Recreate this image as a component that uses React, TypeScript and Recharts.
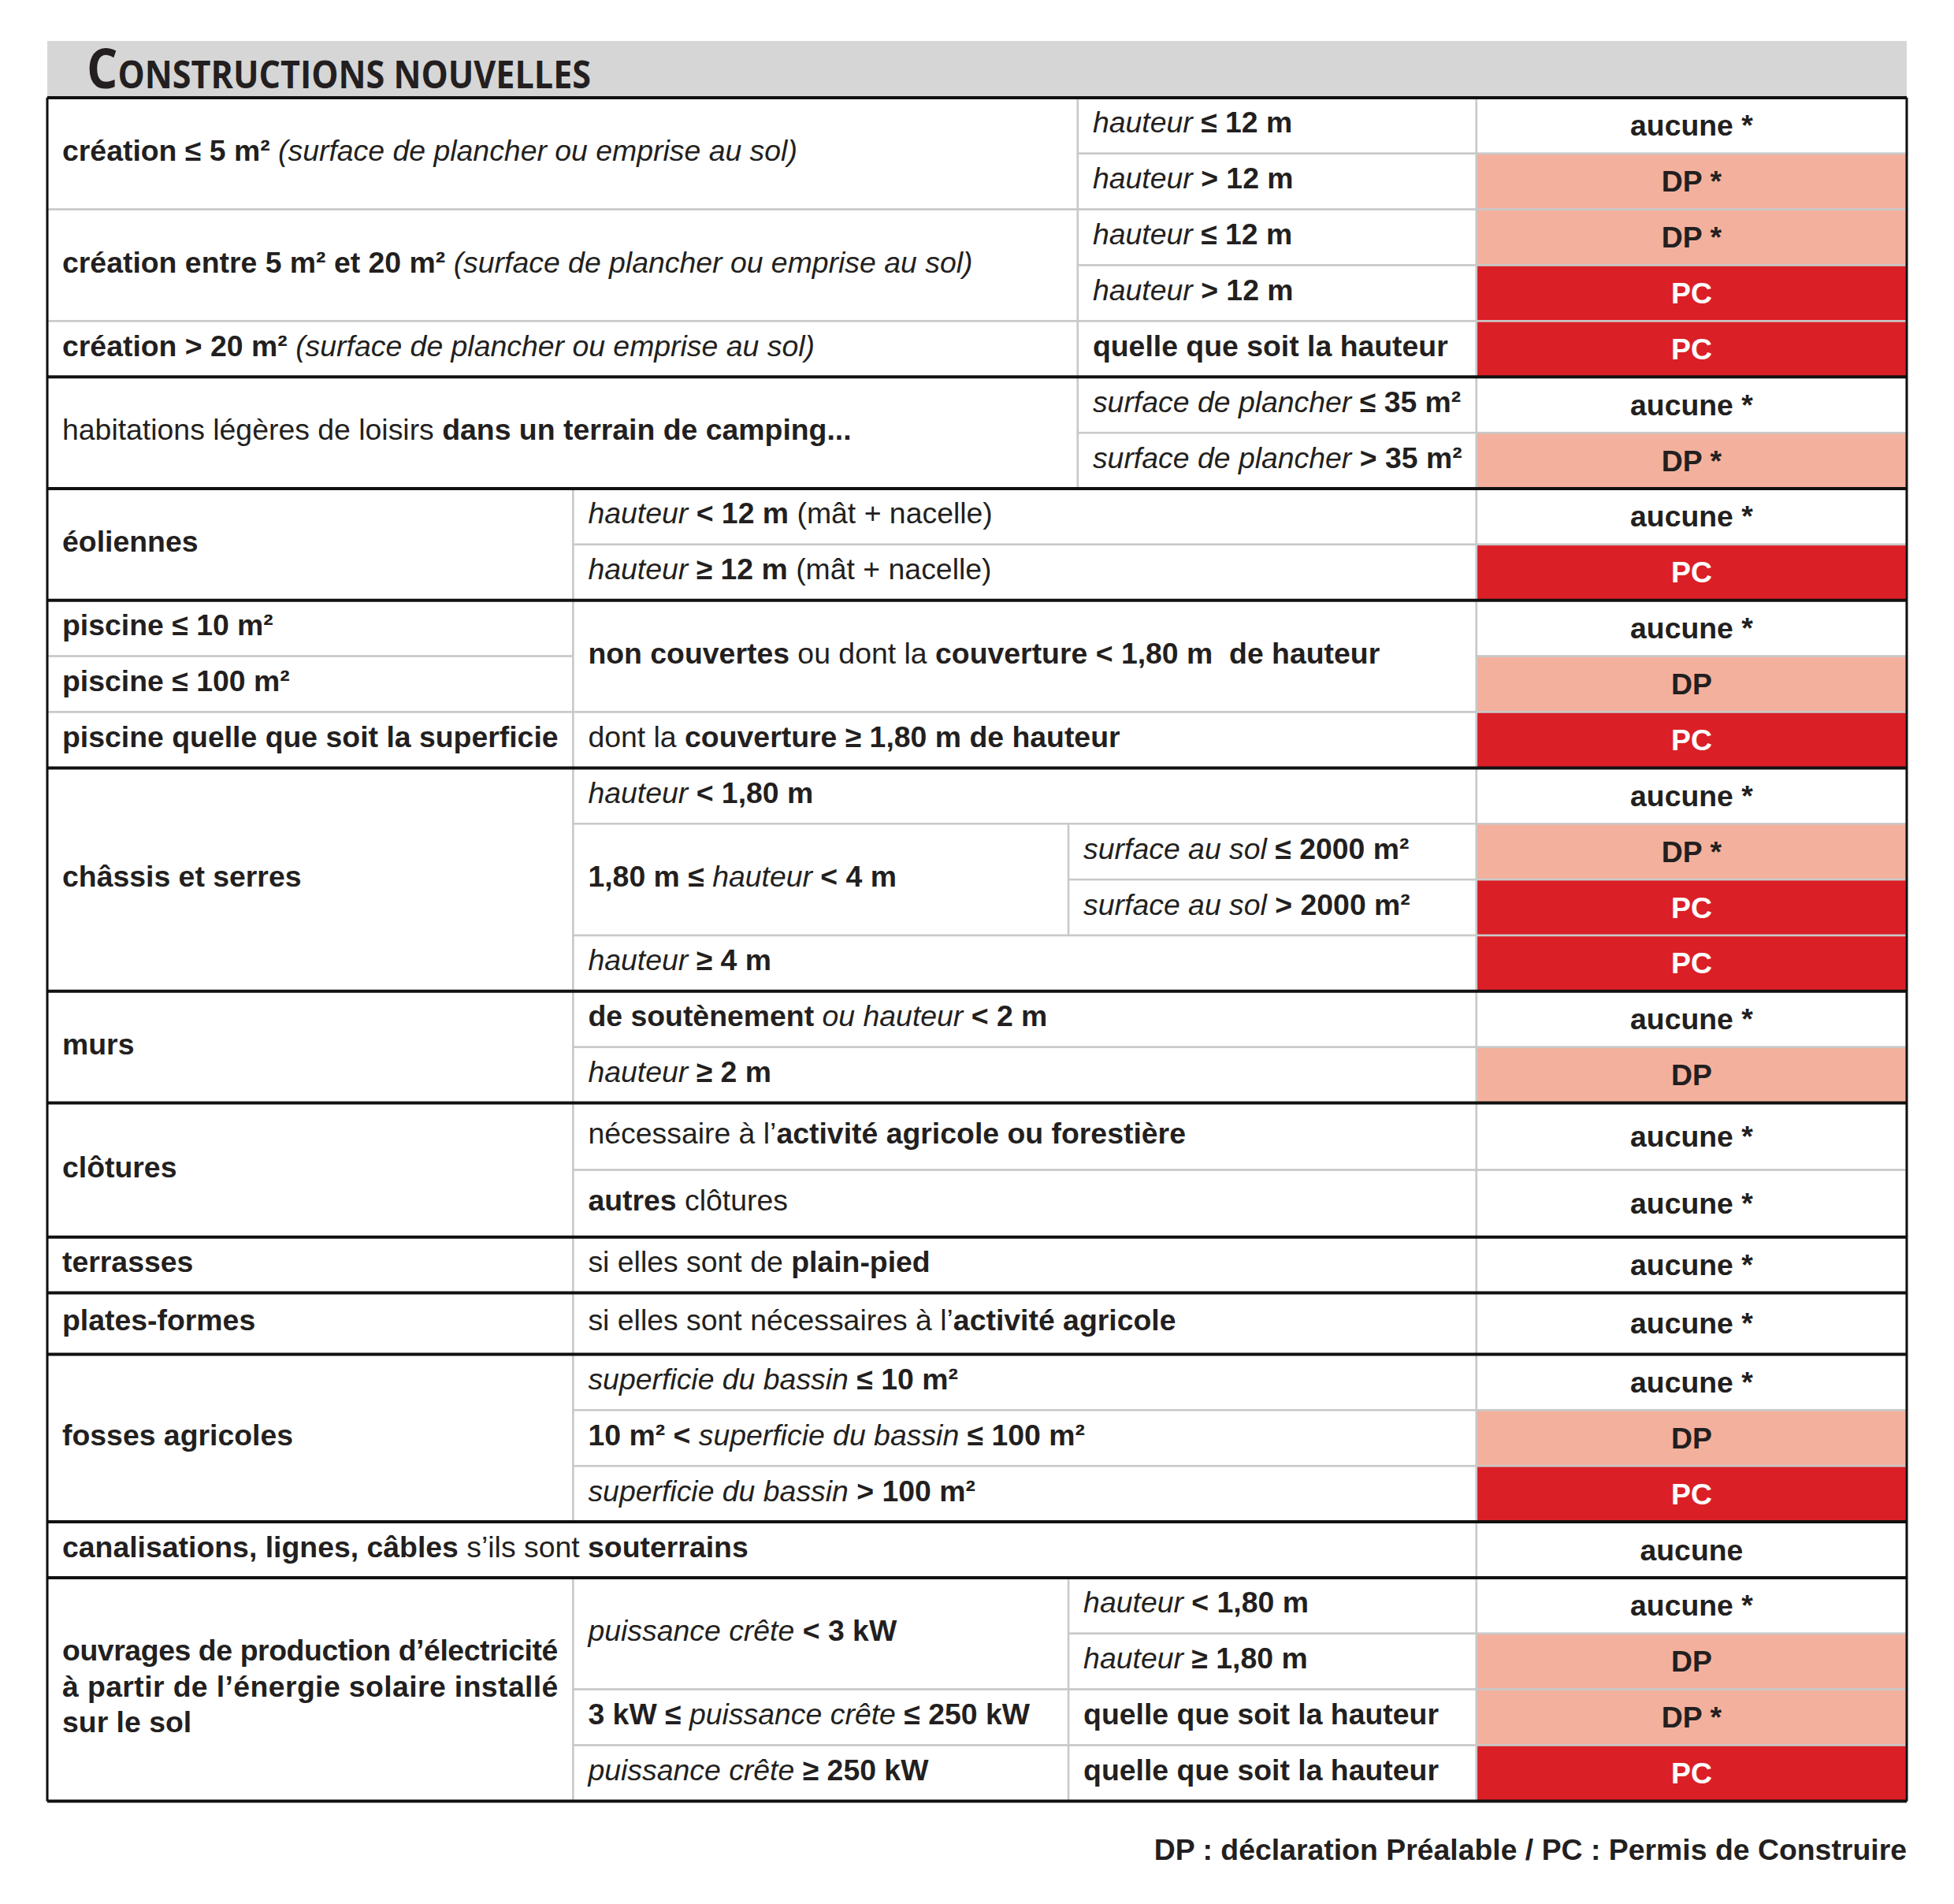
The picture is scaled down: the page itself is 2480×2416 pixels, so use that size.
import React from 'react';
import { ComposedChart, XAxis, YAxis, ReferenceArea, ReferenceLine } from 'recharts';

// row heights in table units (clôtures and plates-formes rows are taller)
const rowUnits = [
  1, 1, 1, 1, 1,
  1, 1,
  1, 1,
  1, 1, 1,
  1, 1, 1, 1,
  1, 1,
  1.2, 1.2,
  1,
  1.1,
  1, 1, 1,
  1,
  1, 1, 1, 1,
];

// column boundaries, % of table width
const colEdges = [0, 28.28, 54.92, 55.42, 76.86, 100];

// rows where a new block starts (thick rule)
const groupStarts = [0, 5, 7, 9, 12, 16, 18, 20, 21, 22, 25, 26, 30];

// permit needed, one per row
const permits = [
  'aucune *', 'DP *', 'DP *', 'PC', 'PC',
  'aucune *', 'DP *',
  'aucune *', 'PC',
  'aucune *', 'DP', 'PC',
  'aucune *', 'DP *', 'PC', 'PC',
  'aucune *', 'DP',
  'aucune *', 'aucune *',
  'aucune *',
  'aucune *',
  'aucune *', 'DP', 'PC',
  'aucune',
  'aucune *', 'DP', 'DP *', 'PC',
];

// [firstRow, lastRow (excl.), firstCol, lastCol, text]  **bold**  _italic_
const cells: [number, number, number, number, string][] = [
  [0, 2, 0, 3, '**création ≤ 5 m²** _(surface de plancher ou emprise au sol)_'],
  [0, 1, 3, 4, '_hauteur_ **≤ 12 m**'],
  [1, 2, 3, 4, '_hauteur_ **> 12 m**'],
  [2, 4, 0, 3, '**création entre 5 m² et 20 m²** _(surface de plancher ou emprise au sol)_'],
  [2, 3, 3, 4, '_hauteur_ **≤ 12 m**'],
  [3, 4, 3, 4, '_hauteur_ **> 12 m**'],
  [4, 5, 0, 3, '**création > 20 m²** _(surface de plancher ou emprise au sol)_'],
  [4, 5, 3, 4, '**quelle que soit la hauteur**'],

  [5, 7, 0, 3, 'habitations légères de loisirs **dans un terrain de camping...**'],
  [5, 6, 3, 4, '_surface de plancher_ **≤ 35 m²**'],
  [6, 7, 3, 4, '_surface de plancher_ **> 35 m²**'],

  [7, 9, 0, 1, '**éoliennes**'],
  [7, 8, 1, 4, '_hauteur_ **< 12 m** (mât + nacelle)'],
  [8, 9, 1, 4, '_hauteur_ **≥ 12 m** (mât + nacelle)'],

  [9, 10, 0, 1, '**piscine ≤ 10 m²**'],
  [10, 11, 0, 1, '**piscine ≤ 100 m²**'],
  [11, 12, 0, 1, '**piscine quelle que soit la superficie**'],
  [9, 11, 1, 4, '**non couvertes** ou dont la **couverture < 1,80 m  de hauteur**'],
  [11, 12, 1, 4, 'dont la **couverture ≥ 1,80 m de hauteur**'],

  [12, 16, 0, 1, '**châssis et serres**'],
  [12, 13, 1, 4, '_hauteur_ **< 1,80 m**'],
  [13, 15, 1, 2, '**1,80 m ≤** _hauteur_ **< 4 m**'],
  [13, 14, 2, 4, '_surface au sol_ **≤ 2000 m²**'],
  [14, 15, 2, 4, '_surface au sol_ **> 2000 m²**'],
  [15, 16, 1, 4, '_hauteur_ **≥ 4 m**'],

  [16, 18, 0, 1, '**murs**'],
  [16, 17, 1, 4, '**de soutènement** _ou hauteur_ **< 2 m**'],
  [17, 18, 1, 4, '_hauteur_ **≥ 2 m**'],

  [18, 20, 0, 1, '**clôtures**'],
  [18, 19, 1, 4, 'nécessaire à l’**activité agricole ou forestière**'],
  [19, 20, 1, 4, '**autres** clôtures'],

  [20, 21, 0, 1, '**terrasses**'],
  [20, 21, 1, 4, 'si elles sont de **plain-pied**'],

  [21, 22, 0, 1, '**plates-formes**'],
  [21, 22, 1, 4, 'si elles sont nécessaires à l’**activité agricole**'],

  [22, 25, 0, 1, '**fosses agricoles**'],
  [22, 23, 1, 4, '_superficie du bassin_ **≤ 10 m²**'],
  [23, 24, 1, 4, '**10 m² <** _superficie du bassin_ **≤ 100 m²**'],
  [24, 25, 1, 4, '_superficie du bassin_ **> 100 m²**'],

  [25, 26, 0, 4, '**canalisations, lignes, câbles** s’ils sont **souterrains**'],

  [26, 30, 0, 1, '**ouvrages de production d’électricité**\n**à partir de l’énergie solaire installé**\n**sur le sol**'],
  [26, 28, 1, 2, '_puissance crête_ **< 3 kW**'],
  [26, 27, 2, 4, '_hauteur_ **< 1,80 m**'],
  [27, 28, 2, 4, '_hauteur_ **≥ 1,80 m**'],
  [28, 29, 1, 2, '**3 kW ≤** _puissance crête_ **≤ 250 kW**'],
  [28, 29, 2, 4, '**quelle que soit la hauteur**'],
  [29, 30, 1, 2, '_puissance crête_ **≥ 250 kW**'],
  [29, 30, 2, 4, '**quelle que soit la hauteur**'],
];

const title = 'CONSTRUCTIONS NOUVELLES';
const legendText = 'DP : déclaration Préalable / PC : Permis de Construire';

const rowTop = rowUnits.reduce((acc, u) => { acc.push(acc[acc.length - 1] + u); return acc; }, [0] as number[]);
const TOTAL = rowTop[rowTop.length - 1];
const HEADER = 1.016;

const FONT = '"Liberation Sans", Arial, Helvetica, sans-serif';
const SIZE = 37.4;
const INK = '#231f20';
const THIN = '#c9c9c9';
const permitFill: Record<string, string> = { aucune: '#ffffff', DP: '#f3b19d', PC: '#db1f26' };

function Rich({ text }: { text: string }) {
  const parts = text.split(/(\*\*[^*]+\*\*|_[^_]+_)/).filter(Boolean);
  return (
    <>
      {parts.map((p, i) => {
        if (p.startsWith('**')) return <tspan key={i} fontWeight="bold">{p.slice(2, -2)}</tspan>;
        if (p.length > 1 && p.startsWith('_') && p.endsWith('_')) return <tspan key={i} fontStyle="italic">{p.slice(1, -1)}</tspan>;
        return <tspan key={i}>{p}</tspan>;
      })}
    </>
  );
}

const textCell = (text: string) => (props: any) => {
  const { x, y, width, height } = props;
  const lines = text.split('\n');
  const first = y + height / 2 + 9 - ((lines.length - 1) * 45.5) / 2;
  return (
    <g>
      <rect x={x} y={y} width={width} height={height} fill="#fff" stroke={THIN} strokeWidth={2.5} />
      {lines.map((l, i) => (
        <text key={i} x={x + 19} y={first + i * 45.5} fontFamily={FONT} fontSize={SIZE} fill={INK}
          style={{ whiteSpace: 'pre' }}
          {...(lines.length > 1 && i < lines.length - 1 ? { textLength: width - 38, lengthAdjust: 'spacing' } : {})}>
          <Rich text={l} />
        </text>
      ))}
    </g>
  );
};

const permitCell = (value: string) => (props: any) => {
  const { x, y, width, height } = props;
  const kind = value.split(' ')[0];
  return (
    <g>
      <rect x={x} y={y} width={width} height={height} fill={permitFill[kind]} stroke={THIN} strokeWidth={2.5} />
      <text x={x + width / 2} y={y + height / 2 + 13} textAnchor="middle" fontFamily={FONT} fontSize={SIZE}
        fontWeight="bold" fill={kind === 'PC' ? '#fff' : INK}>
        {value}
      </text>
    </g>
  );
};

const headerShape = (props: any) => {
  const { x, y, width, height } = props;
  return (
    <g>
      <rect x={x} y={y} width={width} height={height} fill="#d6d6d6" />
      <text x={x + 50} y={y + 60} fontFamily='"Open Sans", "Noto Sans", sans-serif' fontWeight={700} fill={INK}
        textLength={640} lengthAdjust="spacingAndGlyphs">
        <tspan fontSize={69}>{title[0]}</tspan>
        <tspan fontSize={48}>{title.slice(1)}</tspan>
      </text>
    </g>
  );
};

const footerShape = (props: any) => {
  const { x, y, width } = props;
  return (
    <text x={x + width} y={y + 75} textAnchor="end" fontFamily={FONT} fontSize={SIZE} fontWeight="bold" fill={INK}>
      {legendText}
    </text>
  );
};

export default function App() {
  return (
    <div style={{ position: 'absolute', left: 0, top: 0, width: 2480, height: 2416, background: '#fff' }}>
      <ComposedChart width={2480} height={2416} margin={{ top: 52, right: 60, bottom: 130.6, left: 60 }}
        data={permits.map((p, i) => ({ row: i, permit: p }))}>
        <XAxis type="number" dataKey="row" domain={[0, 100]} hide allowDataOverflow />
        <YAxis type="number" domain={[-HEADER, TOTAL]} reversed hide allowDataOverflow />

        <ReferenceArea x1={0} x2={100} y1={-HEADER} y2={0} shape={headerShape} />

        {cells.map(([r0, r1, c0, c1, text], i) => (
          <ReferenceArea key={'c' + i} x1={colEdges[c0]} x2={colEdges[c1]} y1={rowTop[r0]} y2={rowTop[r1]}
            shape={textCell(text)} />
        ))}

        {permits.map((p, i) => (
          <ReferenceArea key={'p' + i} x1={colEdges[4]} x2={colEdges[5]} y1={rowTop[i]} y2={rowTop[i + 1]}
            shape={permitCell(p)} />
        ))}

        {groupStarts.map((g) => (
          <ReferenceLine key={'g' + g} y={rowTop[g]} stroke="#111" strokeWidth={4} />
        ))}
        <ReferenceLine segment={[{ x: 0, y: 0 }, { x: 0, y: TOTAL }]} stroke="#111" strokeWidth={3} />
        <ReferenceLine segment={[{ x: 100, y: 0 }, { x: 100, y: TOTAL }]} stroke="#111" strokeWidth={3} />

        <ReferenceArea x1={0} x2={100} y1={TOTAL} y2={TOTAL + 1} ifOverflow="visible" shape={footerShape} />
      </ComposedChart>
    </div>
  );
}
